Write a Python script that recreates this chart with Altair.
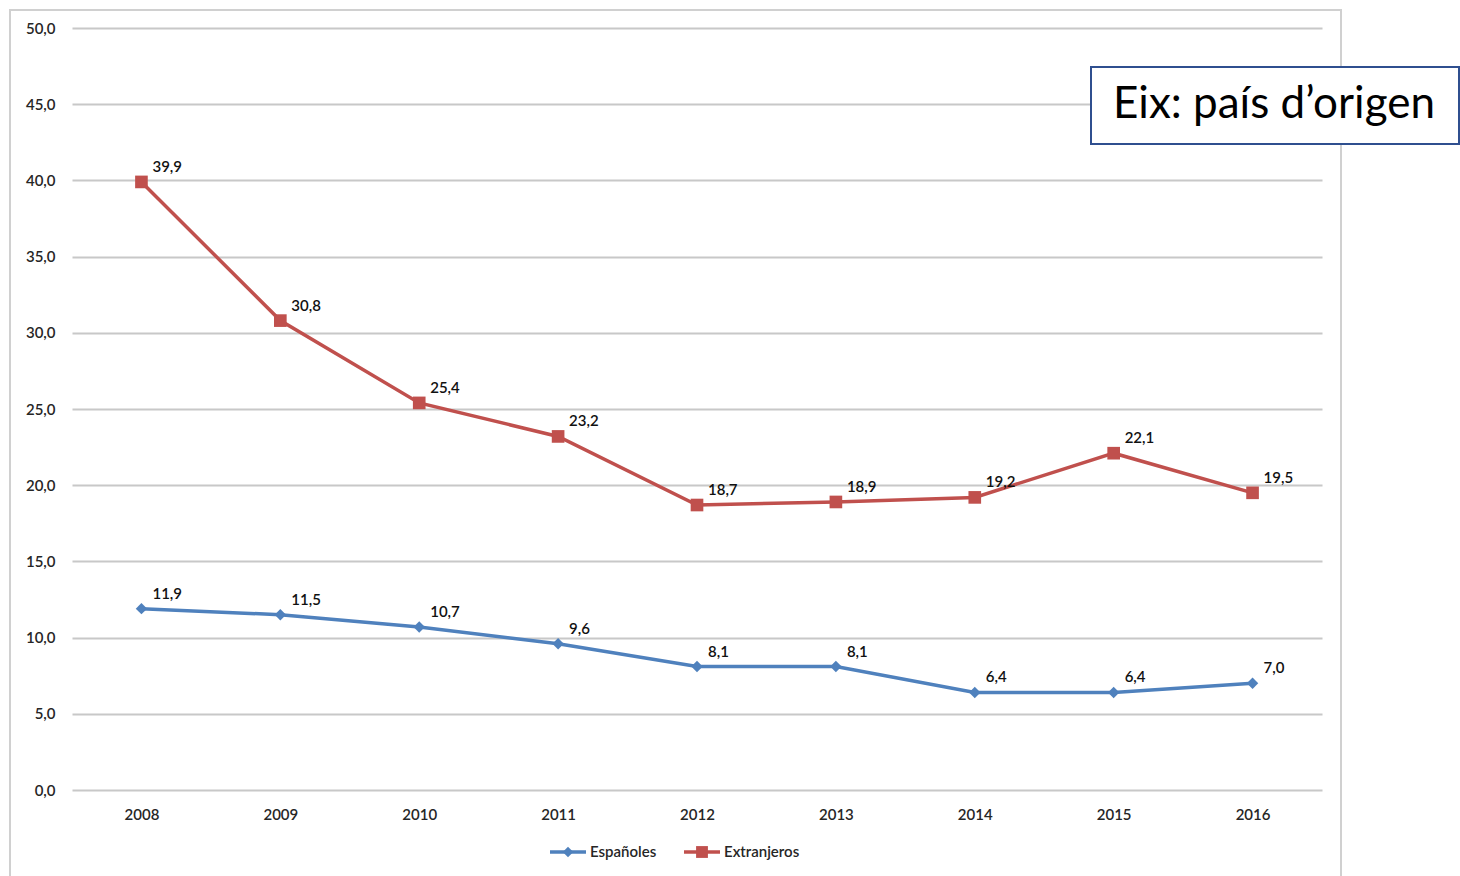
import altair as alt
import pandas as pd

years = ["2008", "2009", "2010", "2011", "2012", "2013", "2014", "2015", "2016"]
espanoles = [11.9, 11.5, 10.7, 9.6, 8.1, 8.1, 6.4, 6.4, 7.0]
extranjeros = [39.9, 30.8, 25.4, 23.2, 18.7, 18.9, 19.2, 22.1, 19.5]
series_names = ["Españoles", "Extranjeros"]
series_colors = ["#4F81BD", "#C0504D"]
y_ticks = [0, 5, 10, 15, 20, 25, 30, 35, 40, 45, 50]
title_text = "Eix: país d\u2019origen"

rows = []
for name, vals in zip(series_names, [espanoles, extranjeros]):
    for yr, v in zip(years, vals):
        rows.append({"year": yr, "value": v, "serie": name,
                     "label": f"{v:.1f}".replace(".", ",")})
df = pd.DataFrame(rows)

FONT = "Lato"
W, H = 1250, 762

x_enc = alt.X("year:O", scale=alt.Scale(type="point", padding=0.5),
              axis=alt.Axis(title=None, domain=False, ticks=False, grid=False, labelAngle=0,
                            labelPadding=17, labelFontSize=15, labelFont=FONT,
                            labelColor="#262626", labelFontWeight=600))
y_enc = alt.Y("value:Q", scale=alt.Scale(domain=[0, 50], nice=False),
              axis=alt.Axis(title=None, values=y_ticks, domain=False, ticks=False,
                            labelPadding=17, labelFontSize=15, labelFont=FONT,
                            labelColor="#262626", labelFontWeight=600,
                            gridColor="#C8C8C8", gridWidth=2,
                            labelExpr="replace(format(datum.value, '.1f'), '.', ',')"))
color_enc = alt.Color("serie:N", scale=alt.Scale(domain=series_names, range=series_colors),
                      legend=None)

base = alt.Chart(df)

border = base.mark_rect(fill=None, stroke="#D0D0D0", strokeWidth=2).encode(
    x=alt.value(-62), x2=alt.value(1269), y=alt.value(-18), y2=alt.value(900))

lines = base.mark_line(strokeWidth=3.5).encode(x=x_enc, y=y_enc, color=color_enc)

pts = base.mark_point(filled=True, opacity=1).encode(
    x=x_enc, y=y_enc, color=color_enc,
    shape=alt.Shape("serie:N", scale=alt.Scale(domain=series_names, range=["diamond", "square"]),
                    legend=None),
    size=alt.Size("serie:N", scale=alt.Scale(domain=series_names, range=[130, 160]), legend=None))

labels = base.mark_text(align="left", baseline="middle", dx=11, dy=-15,
                        font=FONT, fontSize=15, color="#111111", fontWeight=600).encode(
    x=x_enc, y=y_enc, text="label:N")

# legend (manual)
leg = []
leg_y = 824
for name, col, shp, sz, x0, x1, xm, xt in [
    (series_names[0], series_colors[0], "diamond", 110, 478, 514, 496, 518),
    (series_names[1], series_colors[1], "square", 140, 612, 648, 630, 652),
]:
    d = pd.DataFrame({"serie": [name]})
    c = alt.Chart(d)
    leg.append(c.mark_rule(color=col, strokeWidth=3.5).encode(
        x=alt.value(x0), x2=alt.value(x1), y=alt.value(leg_y)))
    leg.append(c.mark_point(filled=True, opacity=1, color=col, shape=shp, size=sz).encode(
        x=alt.value(xm), y=alt.value(leg_y)))
    leg.append(c.mark_text(align="left", baseline="middle", font=FONT, fontSize=15,
                           color="#262626", fontWeight=600).encode(
        x=alt.value(xt), y=alt.value(leg_y), text="serie:N"))

tdf = pd.DataFrame({"t": [title_text]})
tbox = alt.Chart(tdf).mark_rect(fill="white", stroke="#2F4F8F", strokeWidth=2).encode(
    x=alt.value(1019), x2=alt.value(1387), y=alt.value(39), y2=alt.value(116))
ttext = alt.Chart(tdf).mark_text(align="center", baseline="middle", font=FONT,
                                 fontSize=44, color="#000000").encode(
    x=alt.value(1202), y=alt.value(77), text="t:N")

chart = alt.layer(border, lines, pts, labels, *leg, tbox, ttext).properties(
    width=W, height=H,
    background="white",
    autosize=alt.AutoSizeParams(type="none"),
    padding={"left": 72, "top": 28, "right": 138, "bottom": 86},
).configure_view(stroke=None)

chart.save("out.html", embed_options={"renderer": "svg", "actions": False})
